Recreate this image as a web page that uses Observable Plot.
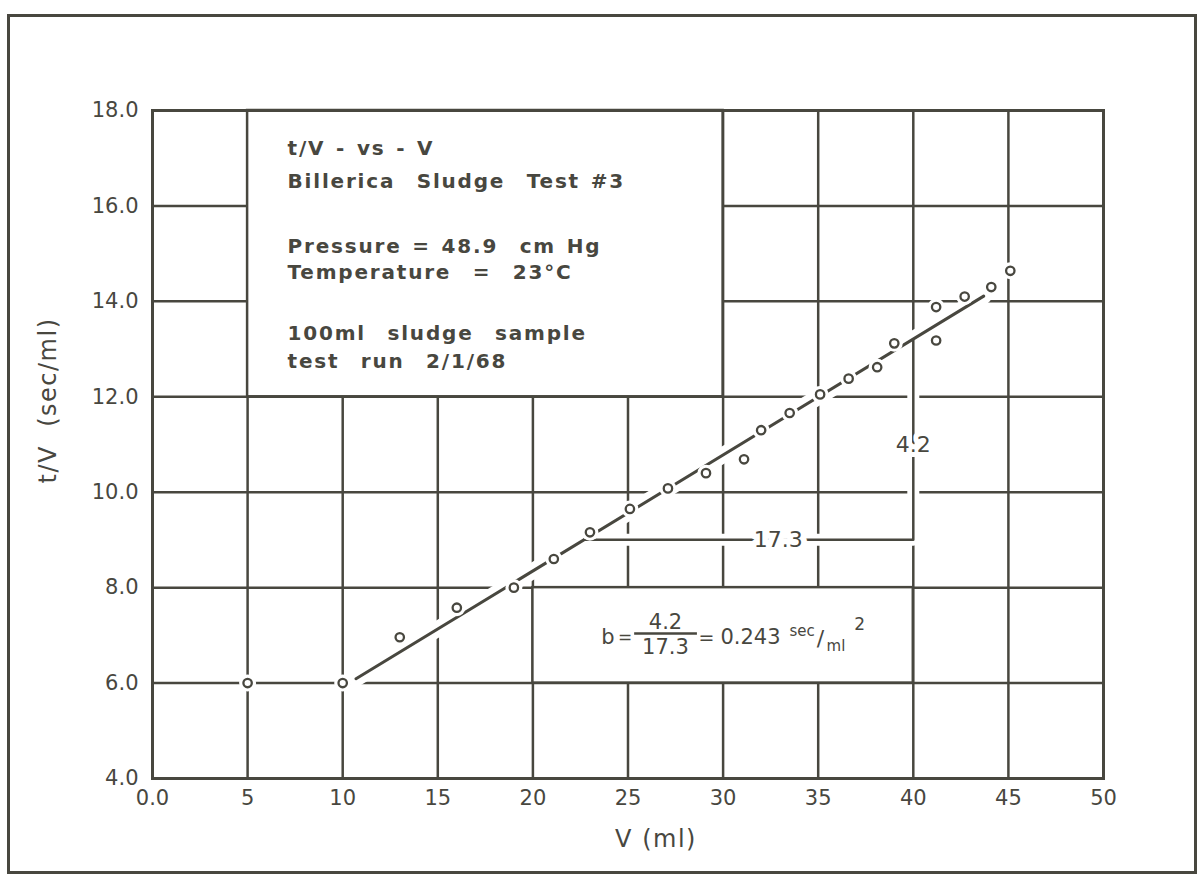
<!DOCTYPE html>
<html>
<head>
<meta charset="utf-8">
<script src="https://cdn.jsdelivr.net/npm/d3@7"></script>
<script src="https://cdn.jsdelivr.net/npm/@observablehq/plot@0.6"></script>
<style>
  html, body { margin: 0; padding: 0; background: #fff; }
  #sheet { position: relative; width: 1200px; height: 877px; overflow: hidden; background: #fff; }
  #border { position: absolute; left: 7px; top: 14px; width: 1184px; height: 854px; border: 3px solid #48473f; pointer-events: none; }
  #chart { position: absolute; left: 0; top: 0; }
</style>
</head>
<body>
<div id="sheet"><div id="chart"></div><div id="border"></div></div>
<script>
// Filtration test: t/V against filtrate volume V
const volume = [5, 10, 13, 16, 19, 21.1, 23, 25.1, 27.1, 29.1, 31.1, 32, 33.5, 35.1, 36.6, 38.1, 39, 41.2, 41.2, 42.7, 44.1, 45.1];
const tOverV = [6.0, 6.0, 6.96, 7.58, 8.0, 8.6, 9.16, 9.65, 10.08, 10.4, 10.69, 11.3, 11.66, 12.05, 12.38, 12.62, 13.12, 13.18, 13.88, 14.1, 14.3, 14.64];

const xTicks = [0, 5, 10, 15, 20, 25, 30, 35, 40, 45, 50];
const yTicks = [4, 6, 8, 10, 12, 14, 16, 18];

// straight-line fit: t/V = intercept + slope * V
const slope = 0.243;
const intercept = 3.49;
const fitRange = [10.7, 43.7];

// slope triangle
const run = 17.3;
const rise = 4.2;
const legEnd = 40;

const infoLines = [
  "t/V - vs - V",
  "Billerica  Sludge  Test #3",
  "Pressure = 48.9  cm Hg",
  "Temperature  =  23°C",
  "100ml  sludge  sample",
  "test  run  2/1/68"
];
const xTitle = "V (ml)";
const yTitle = "t/V  (sec/ml)";

const ink = "#48473f";
const font = "DejaVu Sans";

const points = volume.map((v, i) => ({v, r: tOverV[i]}));
const fit = fitRange.map(v => ({v, r: intercept + slope * v}));
const base = intercept + slope * (legEnd - run);
const legs = [
  {v: legEnd - run, r: base},
  {v: legEnd, r: base},
  {v: legEnd, r: base + rise}
];
const infoRows = [
  {t: infoLines[0], y: 17.2},
  {t: infoLines[1], y: 16.5},
  {t: infoLines[2], y: 15.15},
  {t: infoLines[3], y: 14.6},
  {t: infoLines[4], y: 13.33},
  {t: infoLines[5], y: 12.74}
];

const chart = Plot.plot({
  width: 1200,
  height: 877,
  marginLeft: 152,
  marginRight: 97,
  marginTop: 110,
  marginBottom: 99,
  style: {fontFamily: font, fontSize: "20px", color: ink, background: "transparent"},
  x: {domain: [0, 50]},
  y: {domain: [4, 18]},
  marks: [
    // graph-paper grid
    Plot.ruleX(xTicks.slice(1, -1), {stroke: ink, strokeWidth: 2.5}),
    Plot.ruleY(yTicks.slice(1, -1), {stroke: ink, strokeWidth: 2.5}),
    // boxed note areas
    Plot.rect([{x1: 5, x2: 30, y1: 12, y2: 18}, {x1: 20, x2: 40, y1: 6, y2: 8}],
      {x1: "x1", x2: "x2", y1: "y1", y2: "y2", fill: "white", stroke: ink, strokeWidth: 2.5}),
    // white halos so lines break the grid where they cross
    Plot.line(fit, {x: "v", y: "r", stroke: "white", strokeWidth: 16}),
    Plot.line(legs, {x: "v", y: "r", stroke: "white", strokeWidth: 12}),
    Plot.line(fit, {x: "v", y: "r", stroke: ink, strokeWidth: 3}),
    Plot.line(legs, {x: "v", y: "r", stroke: ink, strokeWidth: 2.5}),
    Plot.dot(points, {x: "v", y: "r", r: 8.5, fill: "white"}),
    Plot.dot(points, {x: "v", y: "r", r: 4.2, fill: "white", stroke: ink, strokeWidth: 2.3}),
    Plot.frame({stroke: ink, strokeWidth: 3}),
    // axes
    Plot.axisX(xTicks, {tickSize: 0, tickPadding: 12, fontSize: 21, label: null,
      tickFormat: d => d === 0 ? "0.0" : String(d)}),
    Plot.axisY(yTicks, {tickSize: 0, tickPadding: 14, fontSize: 21, label: null,
      tickFormat: d => d.toFixed(1)}),
    Plot.text([xTitle], {frameAnchor: "bottom", dx: 28, dy: 68, fontSize: 24, fill: ink}),
    Plot.text([yTitle], {frameAnchor: "left", textAnchor: "middle", rotate: -90, dx: -104, dy: -44, fontSize: 24, fill: ink}),
    // test notes
    Plot.text(infoRows, {x: 7.1, y: "y", text: "t", textAnchor: "start", fontSize: 20, fontWeight: "bold", fill: ink}),
    // slope triangle labels
    Plot.text([run], {x: 32.9, y: base, text: d => d.toFixed(1), fontSize: 22, fill: ink, stroke: "white", strokeWidth: 12}),
    Plot.text([rise], {x: legEnd, y: 11.0, text: d => d.toFixed(1), fontSize: 22, fill: ink, stroke: "white", strokeWidth: 10}),
    // b = rise / run = slope
    Plot.text(["b"], {x: 23.95, y: 6.95, fontSize: 21, fill: ink}),
    Plot.text(["="], {x: 24.85, y: 6.95, fontSize: 17, fill: ink}),
    Plot.ruleY([7.04], {x1: 25.35, x2: 28.65, stroke: ink, strokeWidth: 2.5}),
    Plot.text([rise], {x: 26.97, y: 7.28, text: d => d.toFixed(1), fontSize: 21, fill: ink}),
    Plot.text([run], {x: 26.97, y: 6.74, text: d => d.toFixed(1), fontSize: 21, fill: ink}),
    Plot.text(["="], {x: 29.13, y: 6.95, fontSize: 19, fill: ink}),
    Plot.text([slope], {x: 29.86, y: 6.95, text: d => d.toFixed(3), textAnchor: "start", fontSize: 21, fill: ink}),
    Plot.text(["sec"], {x: 33.49, y: 7.08, textAnchor: "start", fontSize: 15, fill: ink}),
    Plot.text(["/"], {x: 35.12, y: 6.93, fontSize: 22, fill: ink}),
    Plot.text(["ml"], {x: 35.44, y: 6.77, textAnchor: "start", fontSize: 15, fill: ink}),
    Plot.text(["2"], {x: 36.9, y: 7.23, textAnchor: "start", fontSize: 17, fill: ink})
  ]
});

// wider lettering for the notes and axis titles
const svg = d3.select(chart);
svg.selectAll("text")
  .filter(function() { return infoLines.includes(this.textContent); })
  .style("letter-spacing", "1.8px")
  .style("word-spacing", "2px");
svg.selectAll("text")
  .filter(function() { return this.textContent === yTitle || this.textContent === xTitle; })
  .style("letter-spacing", "1.5px");
document.getElementById("chart").appendChild(chart);
</script>
</body>
</html>
